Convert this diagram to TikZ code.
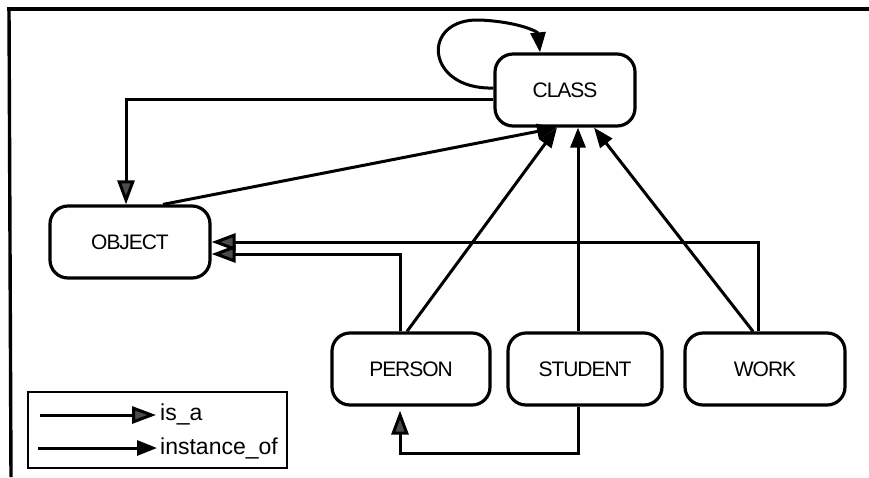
\documentclass[tikz,border=0pt]{standalone}
\usepackage{fontspec}
\setmainfont{Liberation Sans}
\newfontfamily\labelfont[LetterSpace=-5]{Liberation Sans}
\usetikzlibrary{arrows.meta}

\definecolor{isagray}{gray}{0.3}

\tikzset{
  box/.style={draw, line width=3.2pt, rounded corners=18pt, minimum height=72pt,
    inner sep=0pt, font=\labelfont\fontsize{21}{24}\selectfont},
  isalink/.style={draw=black, line width=3pt,
    arrows={-Triangle[length=24pt,width=17pt,fill=isagray]}},
  instlink/.style={draw=black, line width=3pt,
    arrows={-Triangle[length=20pt,width=15pt]}},
  legendtext/.style={anchor=west, inner sep=0pt, font=\fontsize{23}{26}\selectfont},
}

\begin{document}
\begin{tikzpicture}[x=1pt,y=-1pt]
\useasboundingbox (0,0) rectangle (869,477);

% sheet edges
\draw[line width=3.4pt] (7,9) -- (869,9);
\draw[line width=3.4pt] (9,9) -- (11,477);

% classes
\node[box, minimum width=140pt] (class)   at (565,90)  {CLASS};
\node[box, minimum width=160pt] (object)  at (130,242) {OBJECT};
\node[box, minimum width=158pt] (person)  at (411,369) {PERSON};
\node[box, minimum width=154pt] (student) at (585,369) {STUDENT};
\node[box, minimum width=160pt] (work)    at (765,369) {WORK};

% CLASS is an instance of itself
\draw[instlink] (class.west |- 0,88) .. controls (425,90) and (420,18) .. (480,20)
  .. controls (520,22) and (538,32) .. (class.north -| 540,0);

% CLASS is_a OBJECT
\coordinate (c2o) at (126,99);
\draw[isalink] (class.west |- c2o) -| (object.north -| c2o);

% instance_of links into CLASS
\draw[instlink] (object.north -| 163,0) -- (class.south -| 557,0);
\draw[instlink] (person.north -| 407,0) -- (class.south -| 557,0);
\draw[instlink] (student.north -| 578,0) -- (class.south -| 578,0);
\draw[instlink] (work.north -| 753,0) -- (class.south -| 594,0);

% is_a links into OBJECT
\draw[isalink] (work.north -| 758,0) |- (object.east |- 0,242);
\draw[isalink] (person.north -| 400,0) |- (object.east |- 0,254);

% STUDENT is_a PERSON
\coordinate (s2p) at (400,453);
\draw[isalink, shorten >=4pt] (student.south -| 578,0) |- (s2p) -- (person.south -| s2p);

% legend
\node[draw, line width=2.8pt, minimum width=259pt, minimum height=76pt, inner sep=0pt]
  (legend) at (157.5,430) {};
\node[legendtext] (isatext)  at (160,414) {is\_a};
\node[legendtext] (insttext) at (160,448) {instance\_of};
\coordinate (isastart)  at (40,415);
\coordinate (inststart) at (38,448);
\draw[isalink]  (isastart)  -- ([xshift=-4pt]isatext.west |- isastart);
\draw[instlink] (inststart) -- ([xshift=-3pt]insttext.west |- inststart);
\end{tikzpicture}
\end{document}
